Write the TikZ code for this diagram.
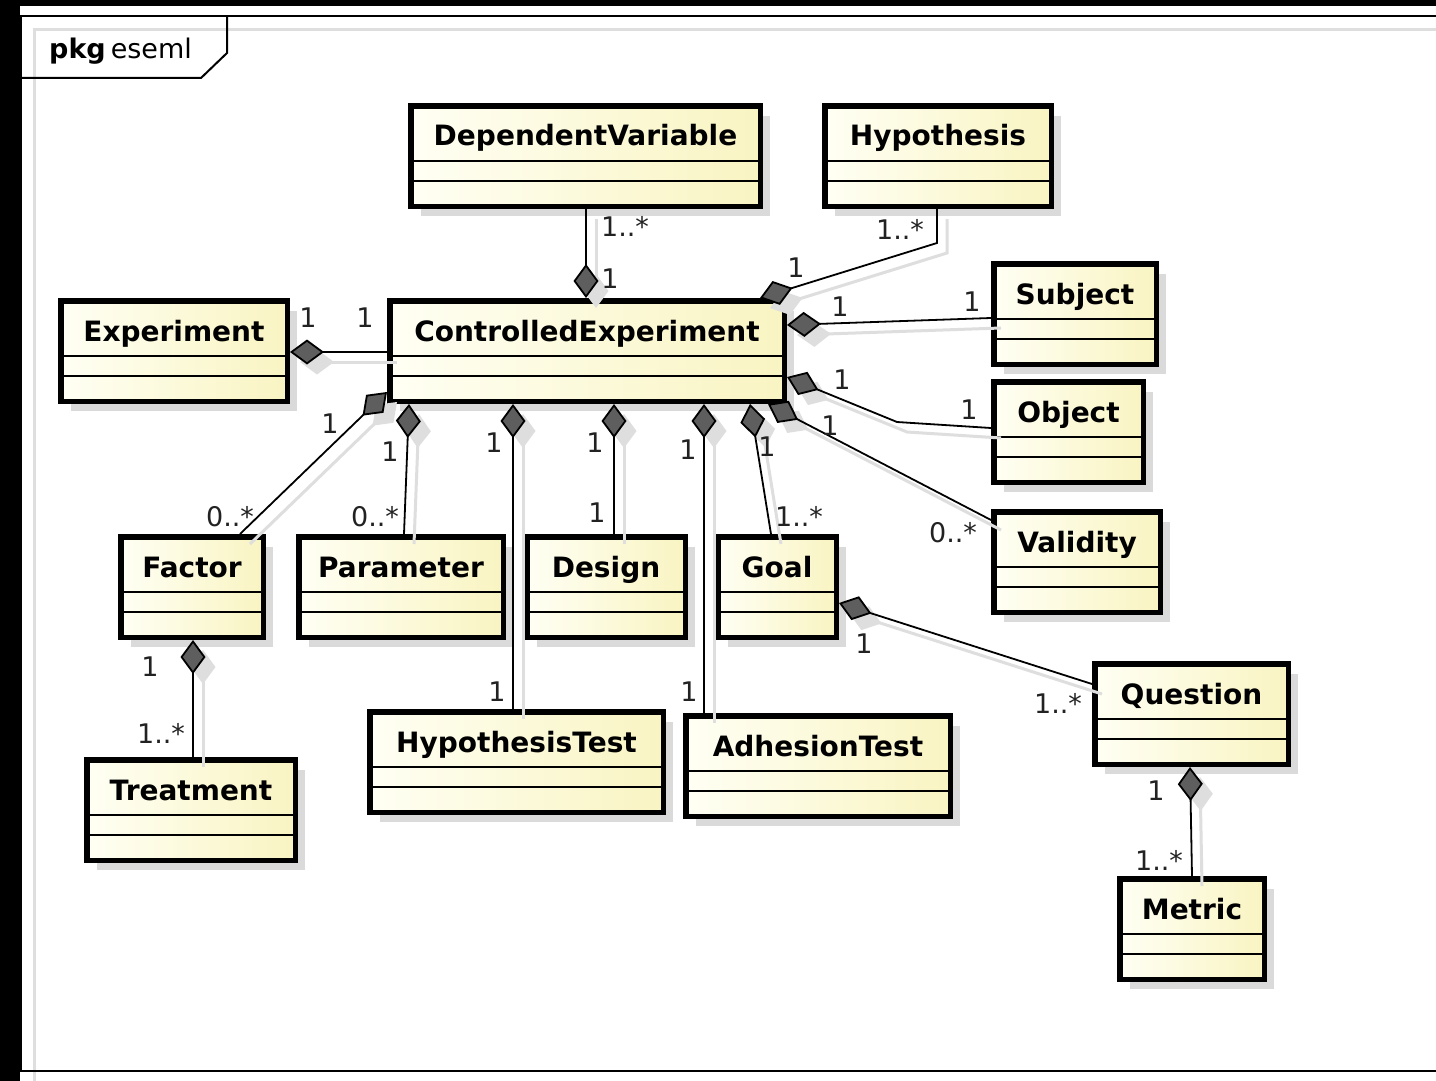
\documentclass[tikz,border=0pt]{standalone}
\usepackage{fontspec}
\setmainfont{DejaVu Sans}
\usepackage{tikz}
\usetikzlibrary{arrows.meta,calc,shadows,positioning}

\definecolor{boxlight}{HTML}{FFFFF4}
\definecolor{boxyellow}{HTML}{F9F4C2}
\definecolor{boxshadow}{HTML}{DADADA}
\definecolor{diamondfill}{HTML}{5E5E5E}
\definecolor{lineshadow}{HTML}{DEDEDE}
\definecolor{multtext}{HTML}{222222}

\newcommand{\titlefont}{\bfseries\fontsize{28}{33}\selectfont}
\newcommand{\multfont}{\fontsize{27}{32}\selectfont}

\tikzset{
  umlbox/.style={draw=black, line width=5.5pt, left color=boxlight, right color=boxyellow,
    inner sep=0pt, anchor=north west,
    drop shadow={shadow xshift=10pt, shadow yshift=-10pt, fill=boxshadow, opacity=1}},
  umltitle/.style={font=\titlefont, inner sep=0pt, anchor=base},
  umlsep/.style={line width=1.8pt},
  comp/.style={draw=black, line width=1.8pt, {Diamond[length=34pt,width=25pt,fill=diamondfill]}-,
    preaction={draw=lineshadow, line width=3pt, {Diamond[length=34pt,width=25pt,fill=lineshadow]}-,
      transform canvas={shift={(10,10)}}}},
  mult/.style={font=\multfont, text=multtext, inner sep=0pt},
  frameline/.style={line width=2pt},
}

% class box: name, left, top, width, title
\newcommand{\umlclass}[5]{%
  \node[umlbox, minimum width=#4pt-5.5pt, minimum height=100.5pt] (#1) at (#2,#3) {};
  \node[umltitle] (#1-title) at ($(#1.north)+(0,43)$) {#5};
  \draw[umlsep] ([yshift=-58pt]#1.north west) -- ([yshift=-58pt]#1.north east);
  \draw[umlsep] ([yshift=-78pt]#1.north west) -- ([yshift=-78pt]#1.north east);
}

\begin{document}
\begin{tikzpicture}[x=1pt,y=-1pt]
    \useasboundingbox (0,0) rectangle (1436,1081);
    \fill[white] (0,0) rectangle (1436,1081);
    \fill[black] (0,0) rectangle (1436,6);
    \fill[black] (0,0) rectangle (20,1081);

    % package frame
    \draw[lineshadow, line width=3pt] (1450,30) -- (34,30) -- (34,1095);
    \draw[frameline] (1450,16) -- (21,16) -- (21,1071) -- (1450,1071);
    \draw[frameline] (227,16) -- (227,53) -- (201,78) -- (21,78);
    \node[font=\multfont, anchor=base west, inner sep=0pt] (pkgname) at (49,59) {\textbf{pkg}\hspace{5pt}eseml};

    % classes
    \umlclass{dv}{408}{103}{355}{DependentVariable}
    \umlclass{hyp}{822}{103}{232}{Hypothesis}
    \umlclass{exp}{58}{298}{232}{Experiment}
    \umlclass{ce}{387}{298}{400}{ControlledExperiment}
    \umlclass{subj}{991}{261}{168}{Subject}
    \umlclass{obj}{991}{379}{155}{Object}
    \umlclass{val}{991}{509}{172}{Validity}
    \umlclass{factor}{118}{534}{148}{Factor}
    \umlclass{param}{296}{534}{210}{Parameter}
    \umlclass{design}{524}{534}{164}{Design}
    \umlclass{goal}{715}{534}{124}{Goal}
    \umlclass{quest}{1092}{661}{199}{Question}
    \umlclass{treat}{84}{757}{214}{Treatment}
    \umlclass{htest}{367}{709}{299}{HypothesisTest}
    \umlclass{adh}{683}{713}{270}{AdhesionTest}
    \umlclass{metric}{1117}{876}{150}{Metric}

    % compositions
    \draw[comp] (ce.north -| 586,0) -- (dv.south -| 586,0);
    \node[mult] (dv-m1) at (625,226) {1..*};
    \node[mult] (dv-m2) at (610,279) {1};

    \draw[comp] (ce.north -| 760,0) -- (937,243) -- (hyp.south -| 937,0);
    \node[mult] (hyp-m1) at (900,229) {1..*};
    \node[mult] (hyp-m2) at (796,268) {1};

    \draw[comp] (ce.east |- 0,325) -- (subj.west |- 0,318);
    \node[mult] (subj-m1) at (840,307) {1};
    \node[mult] (subj-m2) at (972,302) {1};

    \draw[comp] (ce.east |- 0,377) -- (897,422) -- (obj.west |- 0,428);
    \node[mult] (obj-m1) at (842,380) {1};
    \node[mult] (obj-m2) at (969,410) {1};

    \draw[comp] (ce.south -| 768,0) -- (val.west |- 0,520);
    \node[mult] (val-m1) at (830,426) {1};
    \node[mult] (val-m2) at (953,533) {0..*};

    \draw[comp] (ce.south -| 750,0) -- (goal.north -| 771,0);
    \node[mult] (goal-m1) at (767,447) {1};
    \node[mult] (goal-m2) at (799,516) {1..*};

    \draw[comp] (ce.south -| 704,0) -- (adh.north -| 704,0);
    \node[mult] (adh-m1) at (688,450) {1};
    \node[mult] (adh-m2) at (689,692) {1};

    \draw[comp] (ce.south -| 614,0) -- (design.north -| 614,0);
    \node[mult] (design-m1) at (595,443) {1};
    \node[mult] (design-m2) at (597,513) {1};

    \draw[comp] (ce.south -| 513,0) -- (htest.north -| 513,0);
    \node[mult] (htest-m1) at (494,443) {1};
    \node[mult] (htest-m2) at (497,692) {1};

    \draw[comp] (ce.south -| 409,0) -- (param.north -| 404,0);
    \node[mult] (param-m1) at (390,452) {1};
    \node[mult] (param-m2) at (375,517) {0..*};

    \draw[comp] (ce.west |- 0,392) -- (factor.north -| 240,0);
    \node[mult] (factor-m1) at (330,424) {1};
    \node[mult] (factor-m2) at (230,517) {0..*};

    \draw[comp] (exp.east |- 0,352) -- (ce.west |- 0,352);
    \node[mult] (exp-m1) at (308,318) {1};
    \node[mult] (exp-m2) at (365,318) {1};

    \draw[comp] (goal.east |- 0,603) -- (quest.west |- 0,684);
    \node[mult] (quest-m1) at (864,644) {1};
    \node[mult] (quest-m2) at (1058,703) {1..*};

    \draw[comp] (quest.south -| 1190,0) -- (metric.north -| 1192,0);
    \node[mult] (metric-m1) at (1156,791) {1};
    \node[mult] (metric-m2) at (1159,860) {1..*};

    \draw[comp] (factor.south -| 193,0) -- (treat.north -| 193,0);
    \node[mult] (treat-m1) at (150,667) {1};
    \node[mult] (treat-m2) at (161,733) {1..*};
\end{tikzpicture}
\end{document}
